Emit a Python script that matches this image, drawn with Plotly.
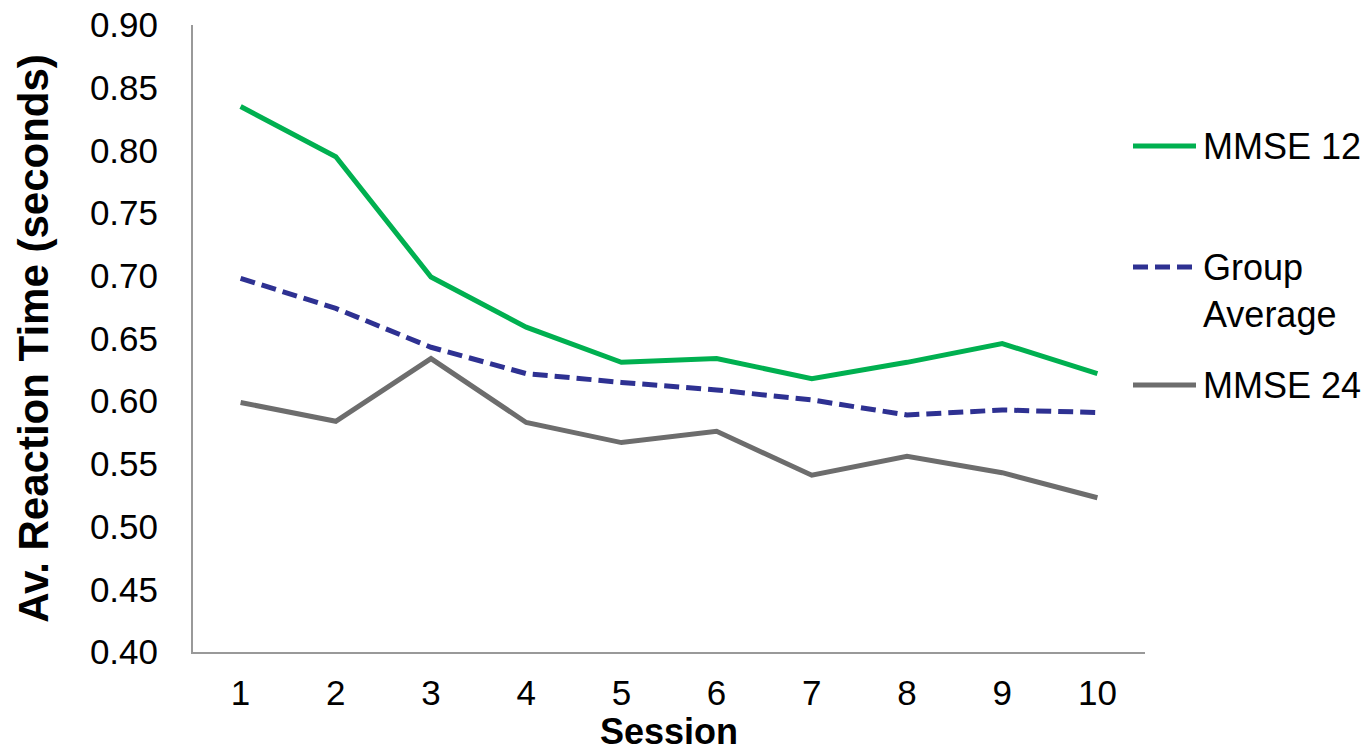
import plotly.graph_objects as go

sessions = ["1", "2", "3", "4", "5", "6", "7", "8", "9", "10"]
mmse12 = [0.835, 0.795, 0.699, 0.659, 0.631, 0.634, 0.618, 0.631, 0.646, 0.622]
group_avg = [0.698, 0.674, 0.643, 0.622, 0.615, 0.609, 0.601, 0.589, 0.593, 0.591]
mmse24 = [0.599, 0.584, 0.634, 0.583, 0.567, 0.576, 0.541, 0.556, 0.543, 0.523]

series_names = ["MMSE 12", "Group<br>Average", "MMSE 24"]
series_colors = ["#00B050", "#2E3192", "#6D6D6D"]
series_dash = ["solid", "15px,7px", "solid"]

y_ticks = [0.40, 0.45, 0.50, 0.55, 0.60, 0.65, 0.70, 0.75, 0.80, 0.85, 0.90]

FONT = "Liberation Sans, Arial, sans-serif"

W, H = 1370, 752
ML, MR, MT, MB = 193, 225, 25, 100
PW, PH = W - ML - MR, H - MT - MB

fig = go.Figure()
for vals, nm, col, dsh in zip([mmse12, group_avg, mmse24], series_names, series_colors, series_dash):
    fig.add_trace(go.Scatter(x=sessions, y=vals, mode="lines", name=nm, showlegend=False,
                             line=dict(color=col, width=5, dash=dsh)))

# manual legend (Excel-like, long line symbols)
legend_rows_px = [146, 267, 385]  # vertical centre of first text line (px from top)
sym_x0_px, sym_x1_px, txt_x_px = 1133, 1196, 1201
def px2x(px):
    return (px - ML) / PW
def py2y(py):
    return (H - MB - py) / PH
for row, nm, col, dsh in zip(legend_rows_px, series_names, series_colors, series_dash):
    fig.add_shape(type="line", xref="paper", yref="paper",
                  x0=px2x(sym_x0_px), x1=px2x(sym_x1_px), y0=py2y(row), y1=py2y(row),
                  line=dict(color=col, width=5, dash=dsh))
    fig.add_annotation(xref="paper", yref="paper", x=px2x(txt_x_px), y=py2y(row - 22),
                       xanchor="left", yanchor="top", align="left", showarrow=False,
                       text=nm, font=dict(family=FONT, size=36, color="black"))

fig.update_layout(
    width=W, height=H,
    margin=dict(l=ML, r=MR, t=MT, b=MB, autoexpand=False),
    paper_bgcolor="white", plot_bgcolor="white",
    font=dict(family=FONT, size=35, color="black"),
    showlegend=False,
    xaxis=dict(type="category", range=[-0.5, 9.5], showgrid=False, zeroline=False,
               showline=True, linecolor="#999999", linewidth=2, ticks="",
               ticklabelstandoff=9,
               tickfont=dict(family=FONT, size=35, color="black"),
               title=dict(text="<b>Session</b>", standoff=12,
                          font=dict(family=FONT, size=36, color="black"))),
    yaxis=dict(range=[0.40, 0.90], tickvals=y_ticks, tickformat=".2f",
               showgrid=False, zeroline=False,
               showline=True, linecolor="#999999", linewidth=2, ticks="",
               ticklabelstandoff=26,
               tickfont=dict(family=FONT, size=35, color="black"),
               title=dict(text="<b>Av. Reaction Time (seconds)</b>", standoff=28,
                          font=dict(family=FONT, size=42, color="black"))),
)

fig.write_html("out.html", config={"displayModeBar": False},
               post_script="document.body.style.margin='0px';")
